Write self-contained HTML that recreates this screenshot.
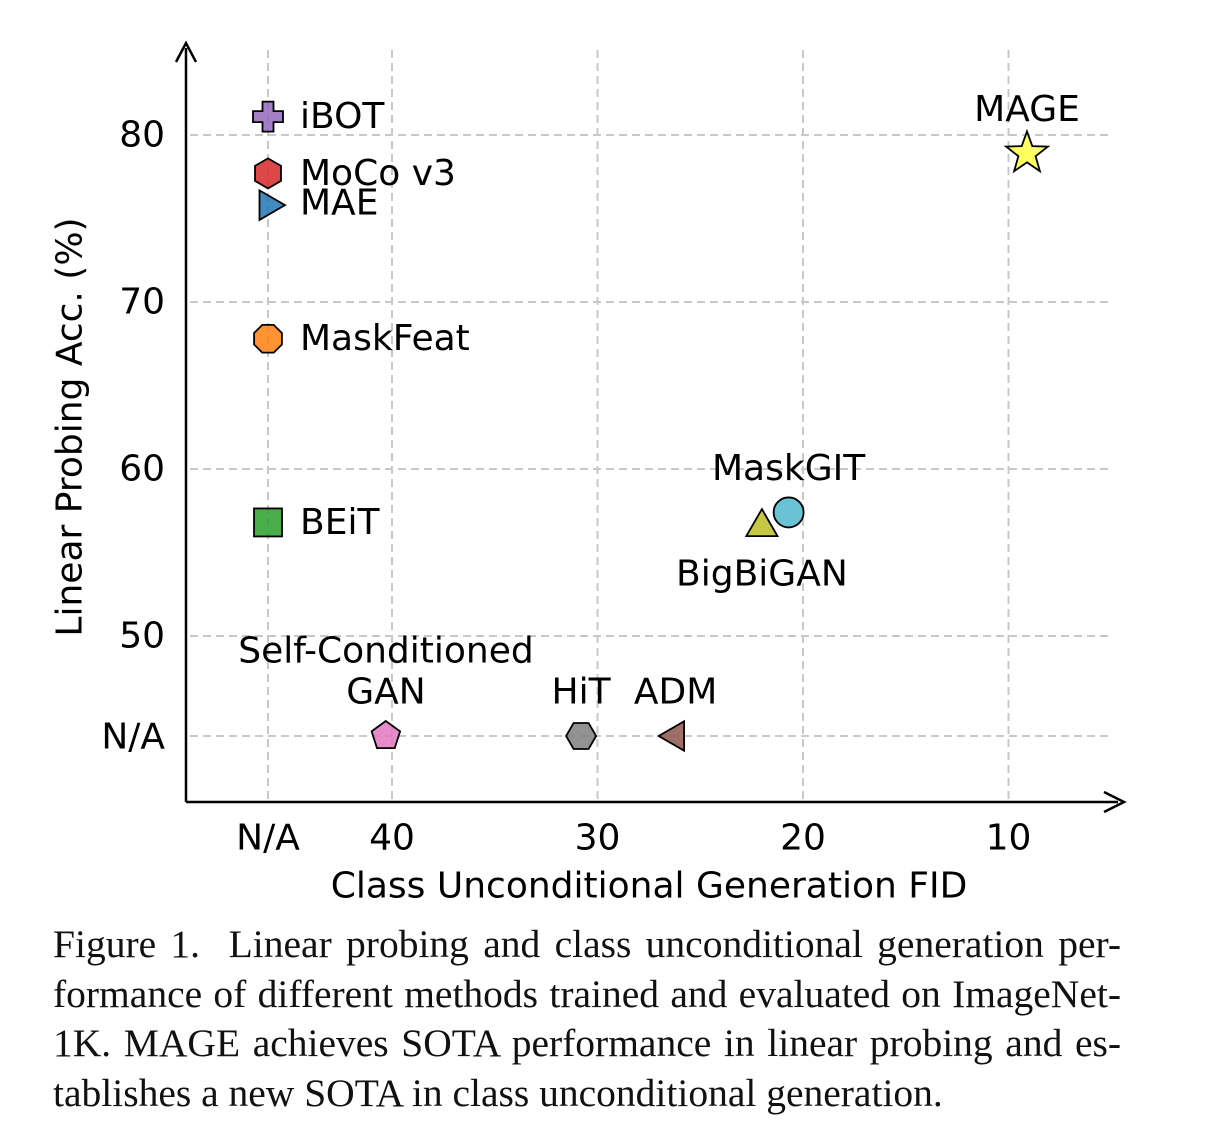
<!DOCTYPE html>
<html><head><meta charset="utf-8"><style>
body{margin:0;background:#fff;width:1230px;height:1148px;overflow:hidden;position:relative}
svg{position:absolute;left:0;top:0}
#cap{position:absolute;left:53px;top:920px;width:1068px;font-family:"Liberation Serif",serif;font-size:39.5px;line-height:49.5px;color:#111}
.l{text-align:justify;text-align-last:justify;white-space:nowrap;height:49.5px}
.last{text-align:left;text-align-last:left}
</style></head><body>
<svg id="chart" width="1230" height="920" font-family="DejaVu Sans, Liberation Sans, sans-serif"></svg>
<div id="cap">
<div class="l">Figure 1.&nbsp; Linear probing and class unconditional generation per-</div>
<div class="l">formance of different methods trained and evaluated on ImageNet-</div>
<div class="l">1K. MAGE achieves SOTA performance in linear probing and es-</div>
<div class="l last">tablishes a new SOTA in class unconditional generation.</div>
</div>
<script>
const names=["iBOT","MoCo v3","MAE","MaskFeat","BEiT","MAGE","MaskGIT","BigBiGAN","Self-Conditioned GAN","HiT","ADM"];
const fids=[null,null,null,null,null,9.1,20.7,22.0,40.3,30.8,26.2];
const accs=[81.1,77.7,75.8,67.8,56.8,78.9,57.4,56.7,null,null,null];
const xTicks=[40,30,20,10];
const yTicks=[80,70,60,50];
const markers=["plus","hex","tri-right","oct","square","star","circle","tri-up","pent","hex2","tri-left"];
const colors=["#9467bd","#d62728","#1f77b4","#ff7f0e","#2ca02c","#ffff44","#4fb8cc","#bcbd22","#e377c2","#7f7f7f","#8c564b"];
const ns="http://www.w3.org/2000/svg";
const svg=document.getElementById('chart');
function X(v){return v===null?268:392+(40-v)*20.55;}
function Y(v){return v===null?736:135+(80-v)*16.7;}
function mk(t,a){const e=document.createElementNS(ns,t);for(const k in a)e.setAttribute(k,a[k]);svg.appendChild(e);return e;}
function txt(s,x,y,anchor,name,size){const e=mk('text',{x:x,y:y,'text-anchor':anchor||'start','font-size':size||36,fill:'#000','dominant-baseline':'central'});e.textContent=s;

return e;}
[null].concat(xTicks).forEach(v=>{const l=mk('line',{x1:X(v),x2:X(v),y1:50,y2:800,stroke:'#c8c8c8','stroke-width':2,'stroke-dasharray':'8,5'});

});
yTicks.concat([null]).forEach(v=>{const l=mk('line',{x1:190,x2:1110,y1:Y(v),y2:Y(v),stroke:'#c8c8c8','stroke-width':2,'stroke-dasharray':'8,5'});

});
let a=mk('path',{d:'M186,802 L186,48 M186,802 L1118,802',stroke:'#000','stroke-width':2.5,fill:'none'});


a=mk('path',{d:'M176,62 L186,43 L196,62 M1104,792 L1124,802 L1104,812',stroke:'#000','stroke-width':2.5,fill:'none'});


txt('N/A',268,838,'middle','x-tick-na');
xTicks.forEach(v=>txt(String(v),X(v),838,'middle','x-tick-'+v));
yTicks.forEach(v=>txt(String(v),165,Y(v),'end','y-tick-'+v));
txt('N/A',165,737,'end','y-tick-na');
txt('Class Unconditional Generation FID',649,886,'middle','x-axis-title');
const yt=txt('Linear Probing Acc. (%)',70,427,'middle','y-axis-title');
yt.setAttribute('transform','rotate(-90 70 427)');
function poly(n,r,rot,cx,cy){let p=[];for(let i=0;i<n;i++){const t=rot+i*2*Math.PI/n;p.push((cx+r*Math.cos(t)).toFixed(1)+','+(cy+r*Math.sin(t)).toFixed(1));}return p.join(' ');}
for(let i=0;i<names.length;i++){
 const cx=X(fids[i]),cy=Y(accs[i]),c=colors[i];let e;const st={fill:c,'fill-opacity':0.85,stroke:'#000','stroke-width':1.8};
 const m=markers[i];
 if(m==='plus'){const s=5.5,r=15;e=mk('path',Object.assign({d:`M${cx-s},${cy-r}h${2*s}v${r-s}h${r-s}v${2*s}h${-(r-s)}v${r-s}h${-2*s}v${-(r-s)}h${-(r-s)}v${-2*s}h${r-s}z`},st));}
 else if(m==='hex')e=mk('polygon',Object.assign({points:poly(6,15,-Math.PI/2,cx,cy)},st));
 else if(m==='hex2')e=mk('polygon',Object.assign({points:poly(6,15,0,cx,cy)},st));
 else if(m==='tri-right')e=mk('polygon',Object.assign({points:poly(3,17,0,cx,cy)},st));
 else if(m==='tri-left')e=mk('polygon',Object.assign({points:poly(3,17,Math.PI,cx,cy)},st));
 else if(m==='tri-up')e=mk('polygon',Object.assign({points:poly(3,18,-Math.PI/2,cx,cy+3)},st));
 else if(m==='oct')e=mk('polygon',Object.assign({points:poly(8,15,Math.PI/8,cx,cy)},st));
 else if(m==='pent')e=mk('polygon',Object.assign({points:poly(5,15,-Math.PI/2,cx,cy)},st));
 else if(m==='square')e=mk('rect',Object.assign({x:cx-14,y:cy-14,width:28,height:28},st));
 else if(m==='circle')e=mk('circle',Object.assign({cx:cx,cy:cy,r:15},st));
 else if(m==='star'){let p=[];for(let k=0;k<10;k++){const r=k%2?9:22,t=-Math.PI/2+k*Math.PI/5;p.push((cx+r*Math.cos(t)).toFixed(1)+','+(cy+r*Math.sin(t)).toFixed(1));}e=mk('polygon',Object.assign({points:p.join(' ')},st));}
 
 
}
function lab(i,dx,dy,anchor){return txt(names[i],X(fids[i])+dx,Y(accs[i])+dy,anchor,'label-'+names[i].toLowerCase().replace(/ /g,'-'));}
lab(0,32,0,'start');lab(1,32,0,'start');lab(2,32,-2,'start');lab(3,32,0,'start');lab(4,32,0,'start');
lab(5,0,-44,'middle');lab(6,0,-44,'middle');lab(7,0,50,'middle');
txt('Self-Conditioned',386,651,'middle','label-self-conditioned');
txt('GAN',386,692,'middle','label-gan');
lab(9,0,-44,'middle');lab(10,0,-44,'middle');
</script>
</body></html>
